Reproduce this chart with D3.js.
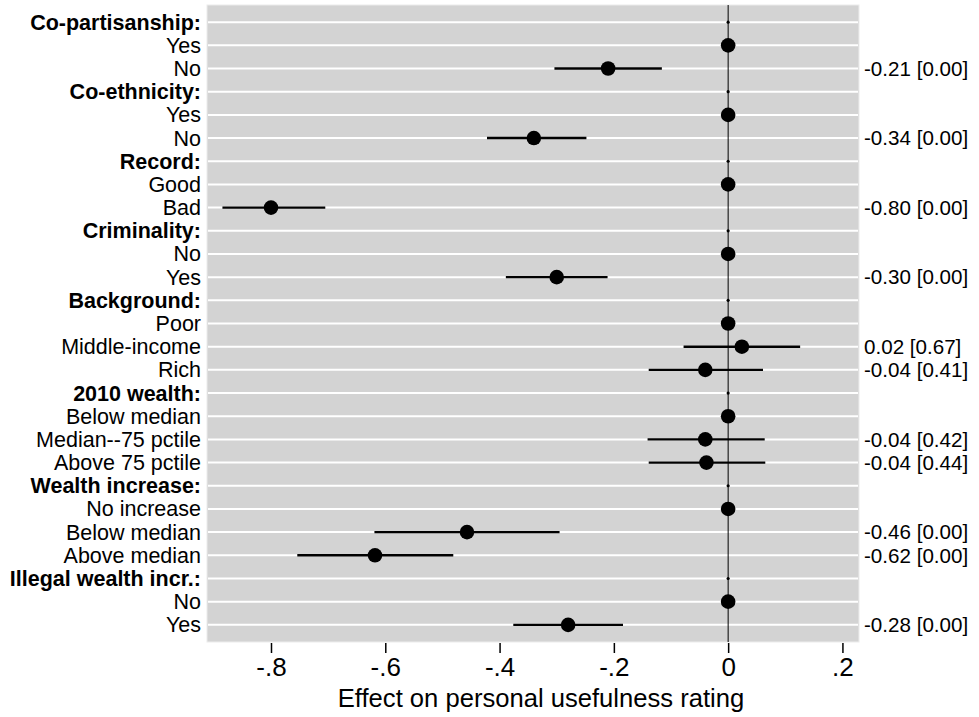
<!DOCTYPE html>
<html>
<head>
<meta charset="utf-8">
<script src="https://cdn.jsdelivr.net/npm/d3@7"></script>
<style>
  html, body { margin: 0; padding: 0; background: #ffffff; }
  svg { display: block; }
  text { font-family: "Liberation Sans", Arial, Helvetica, sans-serif; fill: #000; }
</style>
</head>
<body>
<svg id="chart" width="979" height="717"></svg>
<script>
// Row labels, top to bottom
const rowLabels = [
  "Co-partisanship:", "Yes", "No",
  "Co-ethnicity:", "Yes", "No",
  "Record:", "Good", "Bad",
  "Criminality:", "No", "Yes",
  "Background:", "Poor", "Middle-income", "Rich",
  "2010 wealth:", "Below median", "Median--75 pctile", "Above 75 pctile",
  "Wealth increase:", "No increase", "Below median", "Above median",
  "Illegal wealth incr.:", "No", "Yes"
];
// "h" = group heading, "b" = baseline category, "e" = estimated effect
const rowKinds = [
  "h", "b", "e",
  "h", "b", "e",
  "h", "b", "e",
  "h", "b", "e",
  "h", "b", "e", "e",
  "h", "b", "e", "e",
  "h", "b", "e", "e",
  "h", "b", "e"
];
// Point estimates (baseline = 0, heading = null)
const estimates = [
  null, 0, -0.21,
  null, 0, -0.34,
  null, 0, -0.80,
  null, 0, -0.30,
  null, 0, 0.024, -0.040,
  null, 0, -0.040, -0.038,
  null, 0, -0.457, -0.618,
  null, 0, -0.28
];
// 95% confidence bounds
const ciLow = [
  null, null, -0.304,
  null, null, -0.422,
  null, null, -0.885,
  null, null, -0.389,
  null, null, -0.078, -0.139,
  null, null, -0.141, -0.139,
  null, null, -0.619, -0.754,
  null, null, -0.376
];
const ciHigh = [
  null, null, -0.116,
  null, null, -0.248,
  null, null, -0.705,
  null, null, -0.211,
  null, null, 0.126, 0.061,
  null, null, 0.064, 0.065,
  null, null, -0.295, -0.481,
  null, null, -0.184
];
// p-values shown in brackets
const pValues = [
  null, null, 0.00,
  null, null, 0.00,
  null, null, 0.00,
  null, null, 0.00,
  null, null, 0.67, 0.41,
  null, null, 0.42, 0.44,
  null, null, 0.00, 0.00,
  null, null, 0.00
];
const tickValues = [-0.8, -0.6, -0.4, -0.2, 0, 0.2];
const tickLabels = ["-.8", "-.6", "-.4", "-.2", "0", ".2"];
const xTitle = "Effect on personal usefulness rating";

const svg = d3.select("#chart");
const plot = { left: 207, right: 859, top: 5, bottom: 642 };

const x = d3.scaleLinear().domain([-0.912, 0.229]).range([plot.left, plot.right]);
const y = d3.scalePoint().domain(d3.range(rowLabels.length))
  .range([plot.top, plot.bottom]).padding(0.74);

const fmt = d3.formatLocale({ decimal: ".", thousands: ",", grouping: [3], currency: ["", ""], minus: "-" }).format(".2f");

// plot background
svg.append("rect")
  .attr("x", plot.left).attr("y", plot.top)
  .attr("width", plot.right - plot.left).attr("height", plot.bottom - plot.top)
  .attr("fill", "#d3d3d3").attr("stroke", "#ececec").attr("stroke-width", 1);

// horizontal gridlines at each row
svg.append("g").selectAll("line").data(d3.range(rowLabels.length)).join("line")
  .attr("x1", plot.left + 1).attr("x2", plot.right - 1)
  .attr("y1", d => y(d)).attr("y2", d => y(d))
  .attr("stroke", "#ffffff").attr("stroke-width", 2);

// zero reference line
svg.append("line")
  .attr("x1", x(0)).attr("x2", x(0))
  .attr("y1", plot.top).attr("y2", plot.bottom)
  .attr("stroke", "#000").attr("stroke-width", 1);

// row labels
svg.append("g").selectAll("text").data(rowLabels).join("text")
  .attr("x", 201).attr("y", (d, i) => y(i))
  .attr("dy", "0.35em")
  .attr("text-anchor", "end")
  .attr("font-size", 21.5)
  .attr("font-weight", (d, i) => rowKinds[i] === "h" ? "bold" : "normal")
  .text(d => d);

const rows = d3.range(rowLabels.length);

// confidence intervals
svg.append("g").selectAll("line")
  .data(rows.filter(i => ciLow[i] !== null)).join("line")
  .attr("x1", i => x(ciLow[i])).attr("x2", i => x(ciHigh[i]))
  .attr("y1", i => y(i)).attr("y2", i => y(i))
  .attr("stroke", "#000").attr("stroke-width", 2.4);

// heading markers (tiny) and point estimates
svg.append("g").selectAll("circle")
  .data(rows).join("circle")
  .attr("cx", i => x(estimates[i] === null ? 0 : estimates[i]))
  .attr("cy", i => y(i))
  .attr("r", i => rowKinds[i] === "h" ? 1.6 : 7.3)
  .attr("fill", "#000");

// estimate [p-value] labels on the right
svg.append("g").selectAll("text")
  .data(rows.filter(i => rowKinds[i] === "e")).join("text")
  .attr("x", 864).attr("y", i => y(i))
  .attr("dy", "0.35em")
  .attr("font-size", 20.6)
  .text(i => `${fmt(estimates[i])} [${fmt(pValues[i])}]`);

// x axis
const xAxis = d3.axisBottom(x).tickValues(tickValues)
  .tickFormat((d, i) => tickLabels[i]).tickSize(10).tickPadding(5);
const gx = svg.append("g").attr("transform", `translate(0,${plot.bottom + 1})`).call(xAxis);
gx.select(".domain").remove();
gx.selectAll(".tick line").attr("stroke", "#000").attr("stroke-width", 1.5);
gx.selectAll(".tick text")
  .attr("font-family", "Liberation Sans, Arial, sans-serif")
  .attr("font-size", 26).attr("fill", "#000");

// axis title
svg.append("text")
  .attr("x", 541).attr("y", 707)
  .attr("text-anchor", "middle")
  .attr("font-size", 25.6)
  .text(xTitle);
</script>
</body>
</html>
